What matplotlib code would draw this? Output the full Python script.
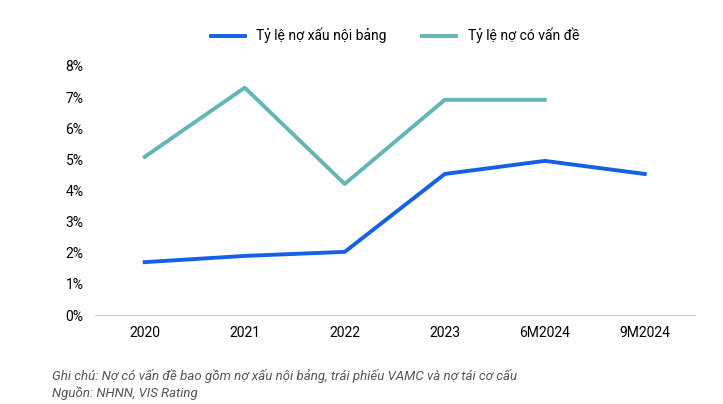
import numpy as np
import matplotlib
matplotlib.use('Agg')
from matplotlib import pyplot as plt

plt.rcParams['font.family'] = 'Roboto'

categories = ['2020', '2021', '2022', '2023', '6M2024', '9M2024']
no_xau = [1.70, 1.90, 2.03, 4.53, 4.95, 4.53]
co_van_de = [5.08, 7.30, 4.21, 6.91, 6.91]
y_ticks = [0, 1, 2, 3, 4, 5, 6, 7, 8]

fig = plt.figure(figsize=(7.23, 4.04), dpi=100)
ax = fig.add_axes([0.131, 0.22, 0.83, 0.617])

x = np.arange(len(categories))
ax.plot(x, no_xau, color='#1560e6', lw=2.8, label='Tỷ lệ nợ xấu nội bảng')
ax.plot(x[:len(co_van_de)], co_van_de, color='#62b6b6', lw=2.8, label='Tỷ lệ nợ có vấn đề')

ax.set_xlim(-0.5, len(categories) - 0.5)
ax.set_ylim(0, 8)
ax.set_xticks(x)
ax.set_xticklabels(categories, fontsize=10)
ax.set_yticks(y_ticks)
ax.set_yticklabels([f'{v}%' for v in y_ticks], fontsize=10)
ax.tick_params(length=0, pad=8)
for s in ['top', 'right', 'left']:
    ax.spines[s].set_visible(False)
ax.spines['bottom'].set_color('#d0d0d0')

ax.legend(loc='lower center', bbox_to_anchor=(0.5, 1.04), ncol=2, frameon=False,
          fontsize=10, handlelength=2.5, columnspacing=2.5)

fig.text(0.072, 0.01, 'Ghi chú: Nợ có vấn đề bao gồm nợ xấu nội bảng, trái phiếu VAMC và nợ tái cơ cấu\nNguồn: NHNN, VIS Rating',
         fontsize=9.5, style='italic', color='#555555', va='bottom', linespacing=1.3)

fig.savefig('out.png', dpi=100)
